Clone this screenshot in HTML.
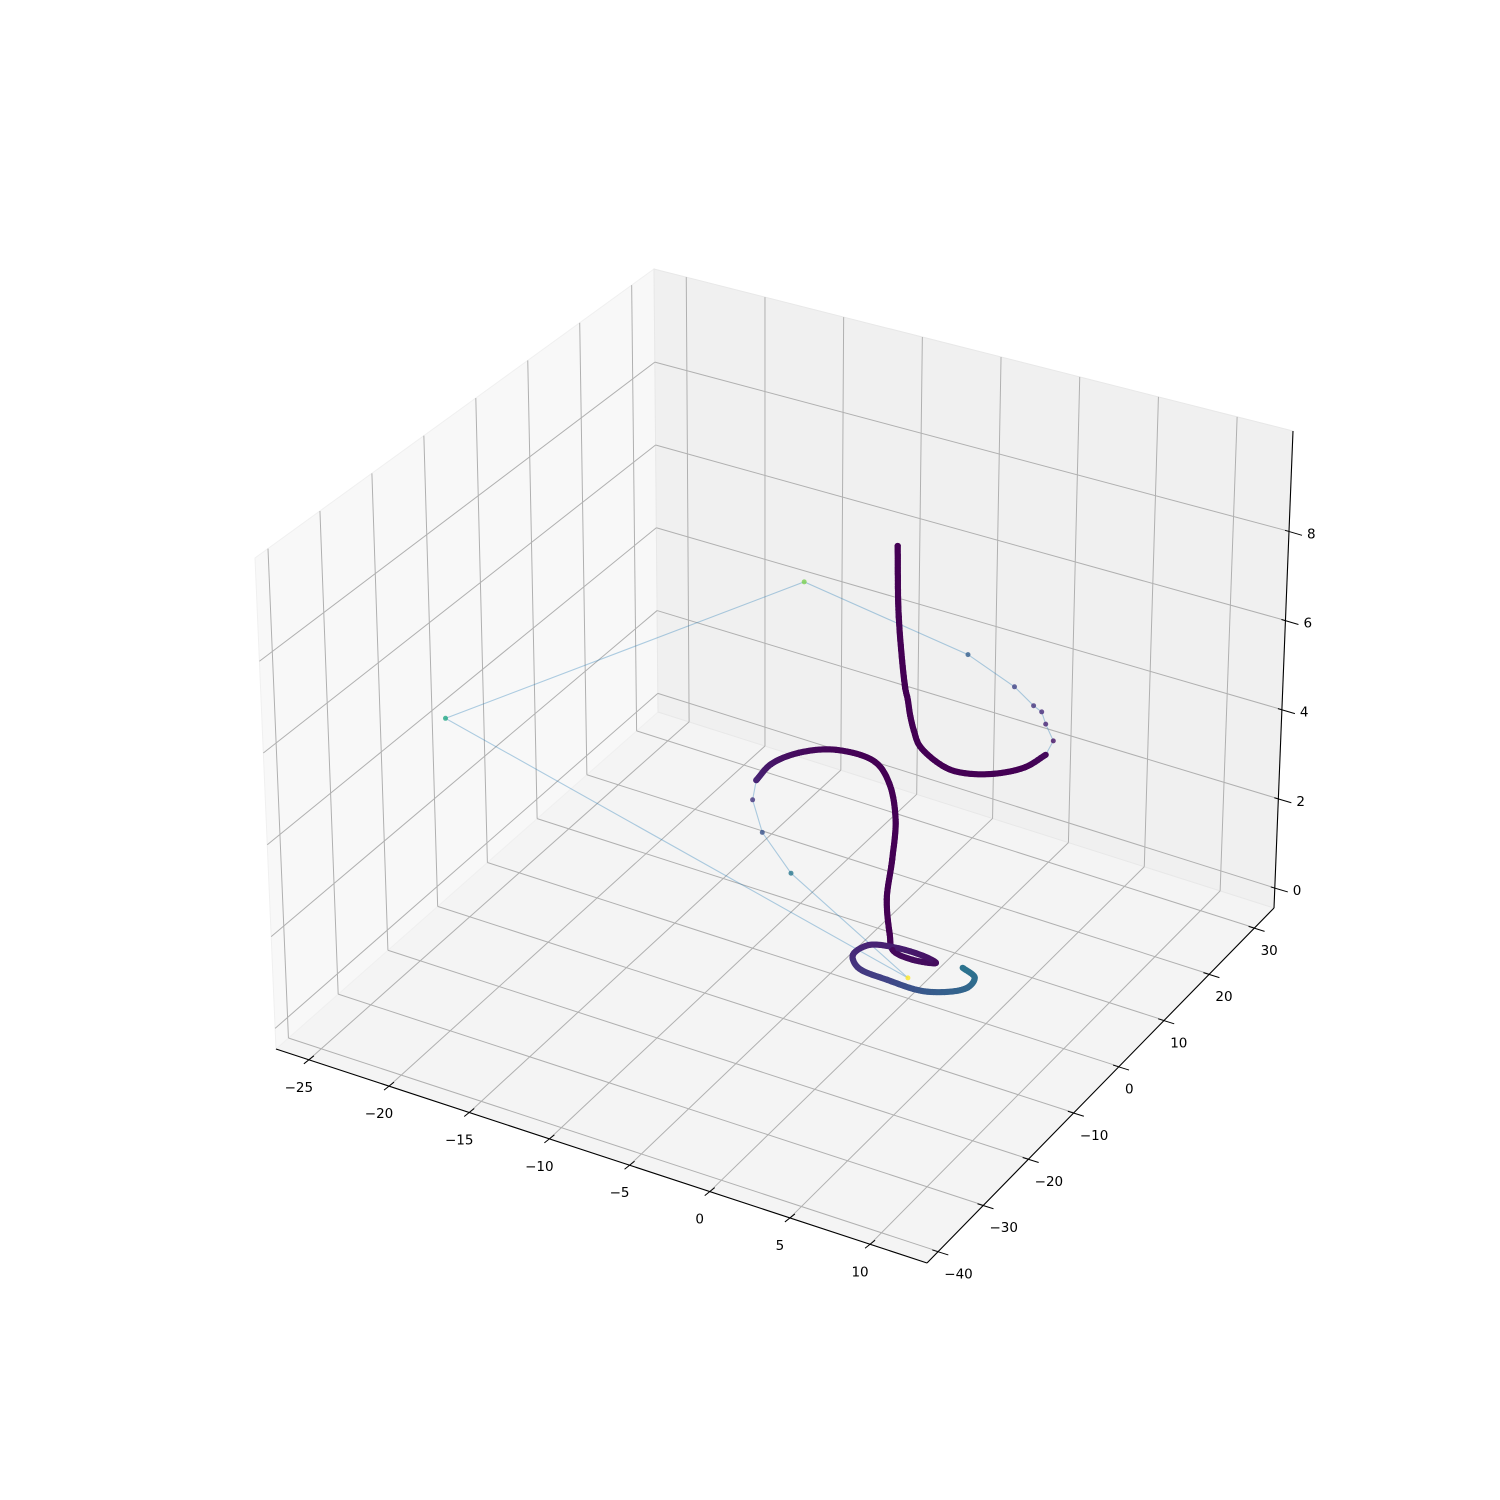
<!DOCTYPE html>
<html><head><meta charset="utf-8"><title>3D trajectory</title>
<style>
html,body{margin:0;padding:0;background:#fff;}
svg{display:block;}
text{font-family:"DejaVu Sans","Liberation Sans",sans-serif;font-size:13.5px;fill:#000;}
</style></head>
<body>
<svg id="chart" width="1500" height="1500" viewBox="0 0 1500 1500" xmlns="http://www.w3.org/2000/svg">
<rect x="0" y="0" width="1500" height="1500" fill="#ffffff"/>
<g id="panes"></g>
<g id="grid"></g>
<g id="axes"></g>
<g id="ticks"></g>
<g id="labels"></g>
<g id="series"></g>
</svg>
<script>
// ---- data ----
const xTicks = [-25, -20, -15, -10, -5, 0, 5, 10];
const yTicks = [-40, -30, -20, -10, 0, 10, 20, 30];
const zTicks = [0, 2, 4, 6, 8];
const xs = [-2.4,-2.3,-1.9,-1.75,-1.6,-1.35,-0.9,1.23,2.43,3.93,5.05,5.37,4.99,3.72,2.87,2.14,0.19,-3.83,-15.82,-24.94,0.48,-0.43,-3.94,-6.15,-7.04,-7.22,-6.54,-4.92,-2.42,-1.6,-1.3,-1.5,-1.8,-1.6,-1.39,0.07,1.33,0.68,-1.23,-2.83,-3.05,-2.23,-0.15,2.36,4.09,3.93,2.87];
const ys = [5.1,5.1,5.25,5.25,5.3,5.25,5.1,3.39,3.36,4.83,7.6,10.83,13.7,16.28,18.25,18.94,21.32,24.66,29.2,-13.85,-1.72,-23.43,-17.67,-12.37,-8.7,-5.13,-1.64,0.86,0.73,1.0,1.4,1.4,1.3,1.3,1.28,0.72,1.43,1.85,1.89,0.78,-1.72,-3.43,-3.98,-3.82,-0.99,1.05,2.04];
const zs = [8.78,7.22,5.66,5.45,5.1,4.8,4.5,4.41,4.41,4.41,4.41,4.41,4.41,4.41,4.41,4.41,4.41,4.41,4.41,4.41,0.22,4.41,4.41,4.41,4.41,4.41,4.41,4.41,4.41,4.0,3.2,2.3,1.4,0.65,0.33,0.33,0.33,0.33,0.33,0.33,0.33,0.33,0.33,0.33,0.33,0.33,0.33];
const speed = [0,0,0,0,0,0,0,0,0,0,0,0.02,0.05,0.1,0.12,0.15,0.2,0.3,0.8,0.6,1.0,0.4,0.25,0.15,0.1,0.06,0.03,0.01,0,0,0,0,0,0,0.02,0.03,0.03,0.05,0.08,0.1,0.12,0.15,0.2,0.28,0.33,0.36,0.38];
const trail = [1,1,1,1,1,1,1,1,1,1,1,1,0,0,0,0,0,0,0,0,0,0,0,0,1,1,1,1,1,1,1,1,1,1,1,1,1,1,1,1,1,1,1,1,1,1,1];

// ---- axes geometry ----
const X0=-27.05, X1=13.55, Y0=-42.5, Y1=34.3, Z0=-0.45, Z1=10.25;
const CB = {A:[276,1049],B:[927,1263],C:[1274,908],D:[658,712]};
const CT = {A:[255,558],B:[928,730],C:[1293,431],D:[654,269]};
function bil(P,u,v){
  return [P.A[0]*(1-u)*(1-v)+P.B[0]*u*(1-v)+P.C[0]*u*v+P.D[0]*(1-u)*v,
          P.A[1]*(1-u)*(1-v)+P.B[1]*u*(1-v)+P.C[1]*u*v+P.D[1]*(1-u)*v];
}
function proj(x,y,z){
  const u=(x-X0)/(X1-X0), v=(y-Y0)/(Y1-Y0), w=(z-Z0)/(Z1-Z0);
  const b=bil(CB,u,v), t=bil(CT,u,v);
  return [b[0]+(t[0]-b[0])*w, b[1]+(t[1]-b[1])*w];
}
const NS="http://www.w3.org/2000/svg";
function mk(tag,attrs,parent){const e=document.createElementNS(NS,tag);for(const k in attrs)e.setAttribute(k,attrs[k]);parent.appendChild(e);return e;}
function poly(pts){return pts.map(p=>p[0].toFixed(1)+","+p[1].toFixed(1)).join(" ");}

// panes
const gP=document.getElementById('panes');
let e;
e=mk('polygon',{points:poly([proj(X0,Y0,Z0),proj(X1,Y0,Z0),proj(X1,Y1,Z0),proj(X0,Y1,Z0)]),fill:'#f4f4f4',stroke:'#ececec'},gP);


e=mk('polygon',{points:poly([proj(X0,Y0,Z0),proj(X0,Y1,Z0),proj(X0,Y1,Z1),proj(X0,Y0,Z1)]),fill:'#f8f8f8',stroke:'#f0f0f0'},gP);


e=mk('polygon',{points:poly([proj(X0,Y1,Z0),proj(X1,Y1,Z0),proj(X1,Y1,Z1),proj(X0,Y1,Z1)]),fill:'#f0f0f0',stroke:'#e8e8e8'},gP);



// grid
const gG=document.getElementById('grid');
function gl(p,q,name){const l=mk('line',{x1:p[0],y1:p[1],x2:q[0],y2:q[1],stroke:'#b0b0b0','stroke-width':1},gG);
  
  }
xTicks.forEach(x=>{gl(proj(x,Y0,Z0),proj(x,Y1,Z0),'x-gridline-floor');gl(proj(x,Y1,Z0),proj(x,Y1,Z1),'x-gridline-back');});
yTicks.forEach(y=>{gl(proj(X0,y,Z0),proj(X1,y,Z0),'y-gridline-floor');gl(proj(X0,y,Z0),proj(X0,y,Z1),'y-gridline-left');});
zTicks.forEach(z=>{gl(proj(X0,Y0,z),proj(X0,Y1,z),'z-gridline-left');gl(proj(X0,Y1,z),proj(X1,Y1,z),'z-gridline-back');});

// axis lines
const gA=document.getElementById('axes');
function al(p,q,name){const l=mk('line',{x1:p[0],y1:p[1],x2:q[0],y2:q[1],stroke:'#000','stroke-width':1.1},gA);
  
  }
al(proj(X0,Y0,Z0),proj(X1,Y0,Z0),'x-axis-line');
al(proj(X1,Y0,Z0),proj(X1,Y1,Z0),'y-axis-line');
al(proj(X1,Y1,Z0),proj(X1,Y1,Z1),'z-axis-line');

// ticks + labels
const gT=document.getElementById('ticks'), gL=document.getElementById('labels');
function tk(p,a,b,name){const l=mk('line',{x1:p[0]+a[0],y1:p[1]+a[1],x2:p[0]+b[0],y2:p[1]+b[1],stroke:'#000','stroke-width':1},gT);
  
  }
function lb(x,y,txt,anchor,name){const t=mk('text',{x:x,y:y,'text-anchor':anchor,'dominant-baseline':'middle'},gL);
  t.textContent=txt;
  
  }
function fmt(v){return v<0?'\u2212'+Math.abs(v):String(v);}
xTicks.forEach(x=>{const p=proj(x,Y0,Z0);tk(p,[-5,4],[5,-4],'x-tick');lb(p[0]-10,p[1]+28,fmt(x),'middle','x-tick-label');});
yTicks.forEach(y=>{const p=proj(X1,y,Z0);tk(p,[-6,-1.5],[10,3.5],'y-tick');lb(p[0]+6,p[1]+23,fmt(y),'start','y-tick-label');});
zTicks.forEach(z=>{const p=proj(X1,Y1,z);tk(p,[-4,-1],[13,4],'z-tick');lb(p[0]+18,p[1]+3,fmt(z),'start','z-tick-label');});

// viridis
const VIR=['#440154','#482475','#414487','#355f8d','#2a788e','#21918c','#22a884','#44bf70','#7ad151','#bddf26','#fde725'];
function hx(c){return [parseInt(c.substr(1,2),16),parseInt(c.substr(3,2),16),parseInt(c.substr(5,2),16)];}
function vir(t){t=Math.max(0,Math.min(1,t));const f=t*10,i=Math.min(9,Math.floor(f)),r=f-i;const a=hx(VIR[i]),b=hx(VIR[i+1]);
  return 'rgb('+a.map((v,k)=>Math.round(v+(b[k]-v)*r)).join(',')+')';}

// series
const gS=document.getElementById('series');
const P3=xs.map((x,i)=>[x,ys[i],zs[i]]);
const P2=P3.map(p=>proj(p[0],p[1],p[2]));
const line=mk('polyline',{points:poly(P2),fill:'none',stroke:'#1f77b4','stroke-opacity':0.35,'stroke-width':1.1},gS);


// centripetal Catmull-Rom (Barry-Goldman), knots from screen distances
function lerp3(a,b,t0,t1,t){const d=t1-t0;if(Math.abs(d)<1e-9)return a.slice();return a.map((v,k)=>((t1-t)*v+(t-t0)*b[k])/d);}
function ccr(P0,P1,P2,P3,S0,S1,S2,S3,s){
  const kd=(a,b)=>Math.max(1e-3,Math.sqrt(Math.hypot(b[0]-a[0],b[1]-a[1])));
  const t0=0,t1=t0+kd(S0,S1),t2=t1+kd(S1,S2),t3=t2+kd(S2,S3);
  const t=t1+(t2-t1)*s;
  const A1=lerp3(P0,P1,t0,t1,t),A2=lerp3(P1,P2,t1,t2,t),A3=lerp3(P2,P3,t2,t3,t);
  const B1=lerp3(A1,A2,t0,t2,t),B2=lerp3(A2,A3,t1,t3,t);
  return lerp3(B1,B2,t1,t2,t);
}
for(let i=0;i<P3.length-1;i++){
  if(trail[i]&&trail[i+1]){
    let i0=Math.max(0,i-1), i3=Math.min(P3.length-1,i+2);
    if(!trail[i0]) i0=i;
    if(!trail[i3]) i3=i+1;
    let P0=P3[i0],S0=P2[i0],Q3=P3[i3],S3=P2[i3];
    if(i0===i){P0=P3[i].map((v,k)=>2*v-P3[i+1][k]);S0=proj(P0[0],P0[1],P0[2]);}
    if(i3===i+1){Q3=P3[i+1].map((v,k)=>2*v-P3[i][k]);S3=proj(Q3[0],Q3[1],Q3[2]);}
    const d=Math.hypot(P2[i+1][0]-P2[i][0],P2[i+1][1]-P2[i][1]);
    const n=Math.max(2,Math.ceil(d/1.2));
    for(let j=0;j<n;j++){const t=j/n;const q=ccr(P0,P3[i],P3[i+1],Q3,S0,P2[i],P2[i+1],S3,t);const s=proj(q[0],q[1],q[2]);
      const c=mk('circle',{cx:s[0].toFixed(1),cy:s[1].toFixed(1),r:3.1,fill:vir(speed[i]+(speed[i+1]-speed[i])*t)},gS);
      
      }
  }
}
P2.forEach((s,i)=>{
  const dense=trail[i]===1;
  const c=mk('circle',{cx:s[0].toFixed(1),cy:s[1].toFixed(1),r:dense?3.1:2.5,fill:vir(speed[i]),'fill-opacity':dense?1:0.8},gS);
  
  
});
</script>
</body></html>
